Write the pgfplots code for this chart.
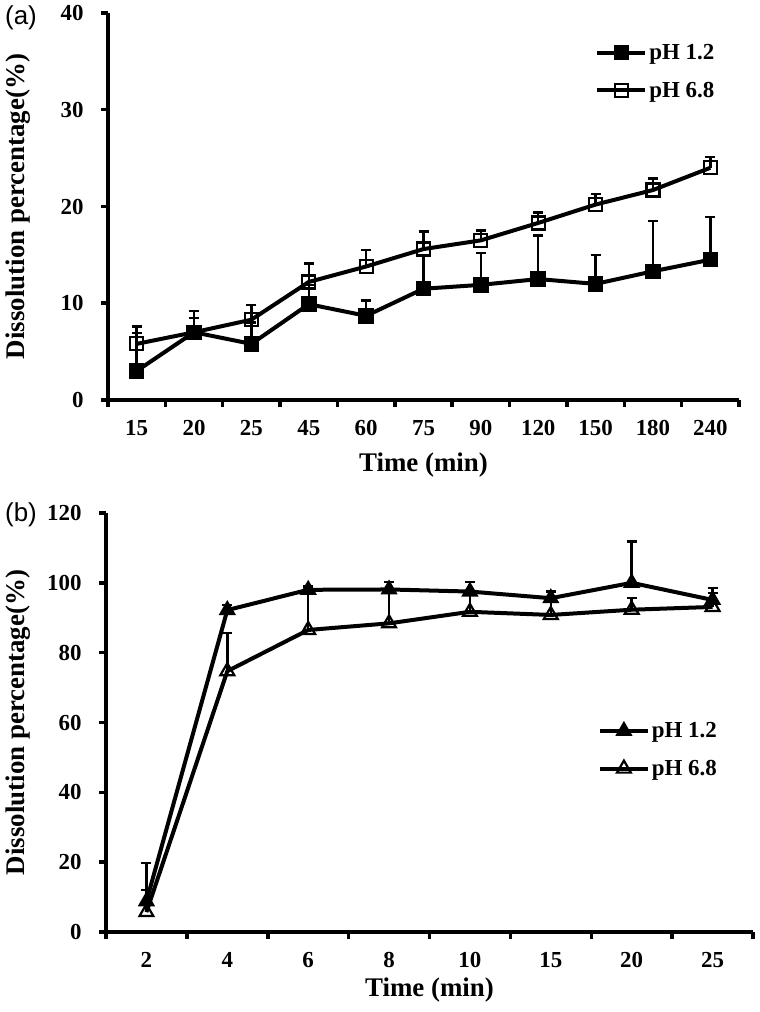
\documentclass[border=0pt]{standalone}
\usepackage{fontspec}
\setmainfont{Liberation Serif}
\newfontfamily\arialfont{Liberation Sans}
\usepackage{pgfplots}
\pgfplotsset{compat=1.18}
\usepackage{pgfplotstable}

% panel (a): category index, mean, upper error
\pgfplotstableread{
x y e
0 3.0 3.9
1 7.0 1.5
2 5.8 2.2
3 9.9 2.0
4 8.7 1.6
5 11.5 3.5
6 11.9 3.3
7 12.5 4.5
8 12.0 3.0
9 13.3 5.2
10 14.5 4.4
}\aLow
\pgfplotstableread{
x y e
0 5.8 1.8
1 7.0 2.2
2 8.3 1.5
3 12.2 1.9
4 13.8 1.7
5 15.6 1.8
6 16.5 1.0
7 18.3 1.1
8 20.2 1.1
9 21.7 1.2
10 24.0 1.1
}\aHigh
% panel (b)
\pgfplotstableread{
x y e
0 8.8 10.9
1 92.2 1.5
2 98.0 1.0
3 98.1 2.2
4 97.5 2.8
5 95.6 1.9
6 100.0 11.8
7 95.1 3.4
}\bLow
\pgfplotstableread{
x y e
0 5.7 6.3
1 74.7 11.0
2 86.5 11.5
3 88.4 9.7
4 91.7 5.8
5 90.8 4.6
6 92.3 3.4
7 93.1 4.0
}\bHigh

\pgfplotsset{
  panel/.style={
    scale only axis,
    axis x line*=bottom, axis y line*=left,
    axis line style={line width=4bp, -},
    tick align=outside,
    major tick length=7bp,
    tick style={line width=3.5bp, black},
    x tick label as interval,
    tick label style={font=\fontsize{23}{25}\selectfont\bfseries},
    xticklabel style={yshift=-10bp},
    yticklabel style={xshift=-14bp},
    /pgf/number format/assume math mode=true,
    label style={font=\fontsize{27}{30}\selectfont\bfseries},
    legend style={draw=none, fill=none, font=\fontsize{23}{25}\selectfont\bfseries,
      inner sep=0pt, row sep=17bp, cells={anchor=west}},
    legend image code/.code={\draw[mark repeat=2,mark phase=2] plot coordinates {(0bp,0bp)(24bp,0bp)(48bp,0bp)};},
    clip=false,
  },
  dline/.style={black, line width=4bp},
  ebar/.style={draw=none, mark=none, forget plot,
    error bars/.cd, y dir=plus, y explicit,
    error bar style={draw=black, line width=2.5bp},
    error mark options={rotate=90, draw=black, mark size=5bp, line width=2.5bp}},
}

\begin{document}
\begin{tikzpicture}[x=1bp,y=1bp]
\path[use as bounding box] (0,0) rectangle (760bp,1012bp);

\begin{axis}[panel,
  at={(108bp,612bp)}, anchor=south west,
  width=631bp, height=387bp,
  xmin=-0.5, xmax=10.5,
  xtick={-0.5,0.5,...,10.5},
  xticklabels={15,20,25,45,60,75,90,120,150,180,240},
  ymin=0, ymax=40, ytick={0,10,20,30,40},
  xlabel={Time (min)},
  ylabel={Dissolution percentage(\%)},
  xlabel style={at={(axis description cs:0.5,-0.168)}, anchor=center},
  ylabel style={at={(axis description cs:-0.1426,0.5)}, anchor=center},
  legend style={at={(axis description cs:0.772,0.925)}, anchor=north west},
]
\addplot[dline, mark=square*, mark size=7bp, mark options={solid, line width=1.5bp, fill=black}] table[x=x,y=y] {\aLow};
\addplot[dline, mark=square, mark size=6.5bp, mark options={solid, line width=2.2bp, fill=white}] table[x=x,y=y] {\aHigh};
\addplot[ebar] table[x=x,y=y,y error=e] {\aLow};
\addplot[ebar] table[x=x,y=y,y error=e] {\aHigh};
\legend{pH 1.2, pH 6.8}
\end{axis}

\begin{axis}[panel,
  at={(106bp,80bp)}, anchor=south west,
  width=647bp, height=419bp,
  xmin=-0.5, xmax=7.5,
  xtick={-0.5,0.5,...,7.5},
  xticklabels={2,4,6,8,10,15,20,25},
  ymin=0, ymax=120, ytick={0,20,...,120},
  xlabel={Time (min)},
  ylabel={Dissolution percentage(\%)},
  xlabel style={at={(axis description cs:0.5,-0.138)}, anchor=center},
  ylabel style={at={(axis description cs:-0.136,0.5)}, anchor=center},
  legend style={at={(axis description cs:0.76,0.505)}, anchor=north west},
]
\addplot[dline, mark=triangle*, mark size=8.5bp, mark options={solid, line width=1.5bp, fill=black}] table[x=x,y=y] {\bLow};
\addplot[dline, mark=triangle, mark size=8bp, mark options={solid, line width=2.2bp, fill=white}] table[x=x,y=y] {\bHigh};
\addplot[ebar] table[x=x,y=y,y error=e] {\bLow};
\addplot[ebar] table[x=x,y=y,y error=e] {\bHigh};
\legend{pH 1.2, pH 6.8}
\end{axis}

\node[font=\arialfont\fontsize{26}{28}\selectfont] at (21bp,994bp) {(a)};
\node[font=\arialfont\fontsize{26}{28}\selectfont] at (21bp,497bp) {(b)};
\end{tikzpicture}
\end{document}
